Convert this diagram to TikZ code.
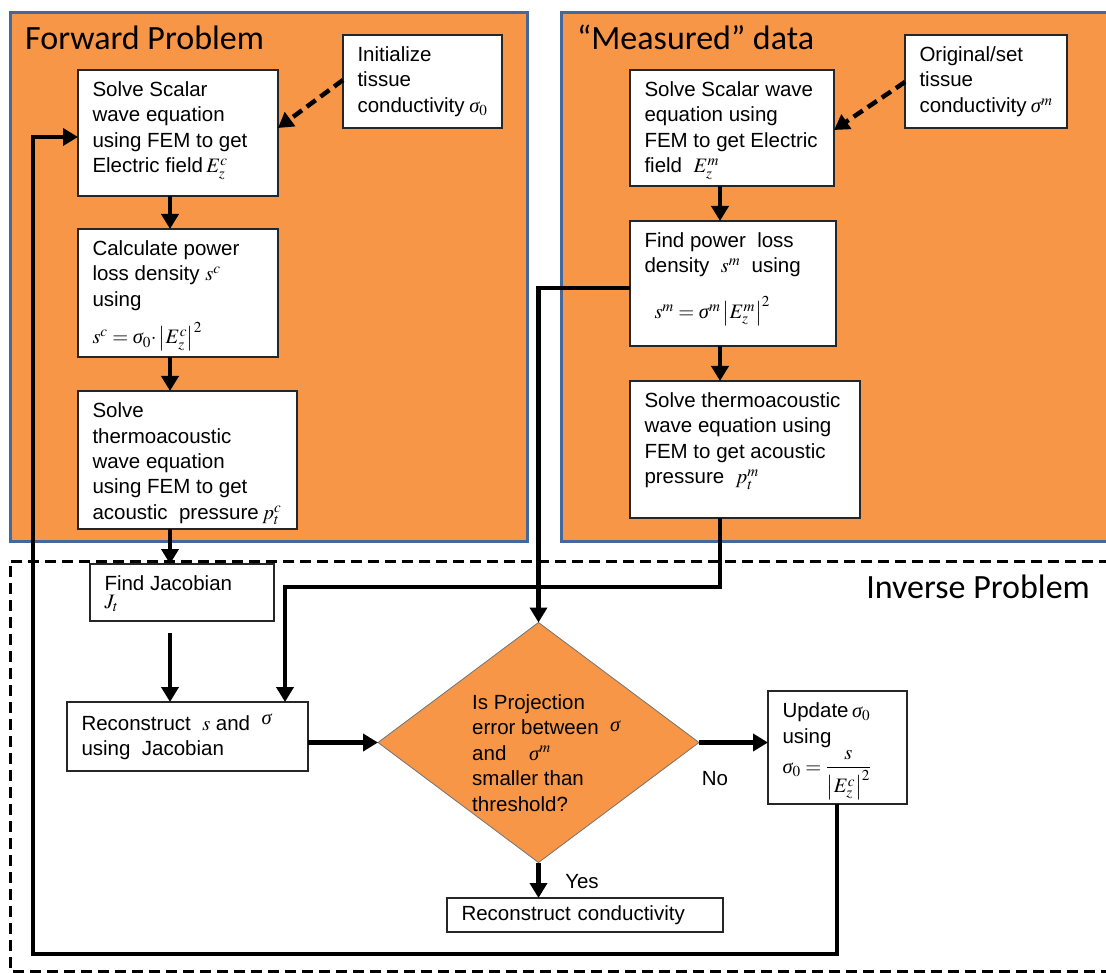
\documentclass[tikz,border=0pt]{standalone}
\usepackage{mathptmx}
\usepackage[no-math]{fontspec}
\setmainfont{Liberation Sans}
\newfontfamily\titlefont{Carlito}
\newfontfamily\grkfont{Liberation Serif}
\newcommand\sg{\mbox{\grkfont\itshape σ}}
\usetikzlibrary{arrows.meta,shapes.geometric}
\definecolor{panelorange}{HTML}{F79646}
\definecolor{panelblue}{HTML}{44689C}
\newcommand\btxt[3]{\parbox[c][#1][t]{#2}{\raggedright\lineskiplimit=-100pt\rule{0pt}{15pt}#3}}
\begin{document}
\begin{tikzpicture}[x=1pt,y=-1pt,
  every node/.style={font=\fontsize{20.5}{25.5}\selectfont},
  bx/.style={draw=black!85, line width=1.1pt, fill=white, inner xsep=14.5pt, inner ysep=11.5pt, anchor=north west, outer sep=0pt},
  panel/.style={draw=panelblue, line width=3pt, fill=panelorange},
  title/.style={font=\titlefont\fontsize{34}{38}\selectfont, inner sep=0pt},
  arr/.style={line width=4.5pt, -{Triangle[length=15pt,width=17pt]}},
  darr/.style={line width=4.5pt, dash pattern=on 11pt off 6pt, -{Triangle[length=15pt,width=17pt]}},
  dashframe/.style={line width=3pt, dash pattern=on 11pt off 6pt},
  dia/.style={diamond, draw=black!55, line width=0.8pt, fill=panelorange, minimum width=321pt, minimum height=240pt, inner sep=0pt, outer sep=0pt}
]
\useasboundingbox (0,0) rectangle (1106,973);
% panels
\draw[panel] (10,13) rectangle (527,541);
\draw[panel] (561,13) rectangle (1109,541);
\draw[dashframe] (1110,561) -- (10,561) -- (10,971) -- (1110,971);
% titles
\node[title, anchor=base west] (fwdt) at (25,50) {Forward Problem};
\node[title, anchor=base west] (meast) at (577,50) {“Measured” data};
\node[title, anchor=base east] (invt) at (1090,598) {Inverse Problem};
% forward boxes
\node[bx] (a1) at (78,70) {\btxt{103pt}{171pt}{Solve Scalar\\wave equation\\using FEM to get\\Electric field\,$E_z^c$}};
\node[bx] (init) at (343,35) {\btxt{70pt}{130pt}{Initialize\\tissue\\conductivity~$\sg_0$}};
\node[bx] (a2) at (78,229) {\btxt{105pt}{171pt}{Calculate power\\loss density $s^c$\\using\\[12pt]$s^c=\sg_0{\cdot}\left|E_z^c\right|^2$}};
\node[bx] (a3) at (78,391) {\btxt{115pt}{190pt}{Solve\\thermoacoustic\\wave equation\\using FEM to get\\acoustic\ \ pressure\,$p_t^c$}};
% measured boxes
\node[bx] (b1) at (630,70) {\btxt{93pt}{175pt}{Solve Scalar wave\\equation using\\FEM to get Electric\\field\ \ $E_z^m$}};
\node[bx] (orig) at (905,35) {\btxt{70pt}{133pt}{Original/set\\tissue\\conductivity~$\sg^m$}};
\node[bx] (b2) at (630,221) {\btxt{102pt}{177pt}{Find power\ \ loss\\density\ \ $s^m$\ \ using\\[20pt]\hspace*{10pt}$s^m=\sg^m\left|E_z^m\right|^2$}};
\node[bx] (b3) at (630,381) {\btxt{114pt}{201pt}{Solve thermoacoustic\\wave equation\ using\\FEM to get acoustic\\pressure\ \ $p_t^m$}};
% inverse boxes
\node[bx] (jac) at (90,564) {\btxt{34pt}{155pt}{Find Jacobian\\[-8pt]$J_t$}};
\node[bx] (rec) at (67,702) {\btxt{46pt}{212pt}{Reconstruct\ \ $s$ and\ \ \raisebox{6pt}{$\sg$}\\using\ \ Jacobian}};
\node[dia] (dia) at (538.5,742.5) {};
\node[anchor=north west, inner sep=0pt] (dtx) at (472,694) {\parbox[t]{210pt}{\raggedright\rule{0pt}{15pt}Is Projection\\error between\ \ \raisebox{3pt}{$\sg$}\\and\ \ \ \ $\sg^m$\\smaller than\\threshold?}};
\node[bx] (upd) at (768,691) {\btxt{90pt}{110pt}{Update\,$\sg_0$\\using\\[4.5pt]$\sg_0=\displaystyle\frac{s}{\left|E_z^c\right|^2}$}};
\node[bx, inner ysep=0pt, minimum height=34pt, text width=247pt, align=left] (rc) at (447,898) {Reconstruct conductivity};
\node (no) at (715,779) {No};
\node (yes) at (582,882) {Yes};
% connectors
\coordinate (cx) at (170,0);
\draw[arr] (a1.south -| cx) -- (a2.north -| cx);
\draw[arr] (a2.south -| cx) -- (a3.north -| cx);
\draw[arr] (a3.south -| cx) -- (jac.north -| cx);
\coordinate (j1) at (170,633);
\draw[arr] (j1) -- (rec.north -| j1);
\coordinate (cm) at (720,0);
\draw[arr] (b1.south -| cm) -- (b2.north -| cm);
\draw[arr] (b2.south -| cm) -- (b3.north -| cm);
\coordinate (n1) at (720,587);
\coordinate (n2) at (285,587);
\draw[arr] (b3.south -| cm) -- (n1) -- (n2) -- (rec.north -| n2);
\coordinate (m1) at (538.5,288);
\draw[arr] (b2.west |- m1) -- (m1) -- (dia.north);
\coordinate (f0) at (837,0);
\coordinate (f1) at (837,954);
\coordinate (f2) at (33,954);
\coordinate (f3) at (33,137);
\draw[arr] (upd.south -| f0) -- (f1) -- (f2) -- (f3) -- (a1.west |- f3);
\coordinate (d1) at (0,80);
\coordinate (d2) at (0,128);
\draw[darr] (init.west |- d1) -- (a1.east |- d2);
\coordinate (e1) at (0,82);
\coordinate (e2) at (0,130);
\draw[darr] (orig.west |- e1) -- (b1.east |- e2);
\draw[arr] (rec.east |- dia.west) -- (dia.west);
\draw[arr] (dia.east) -- (upd.west |- dia.east);
\draw[arr] (dia.south) -- (rc.north -| dia.south);
\end{tikzpicture}
\end{document}
